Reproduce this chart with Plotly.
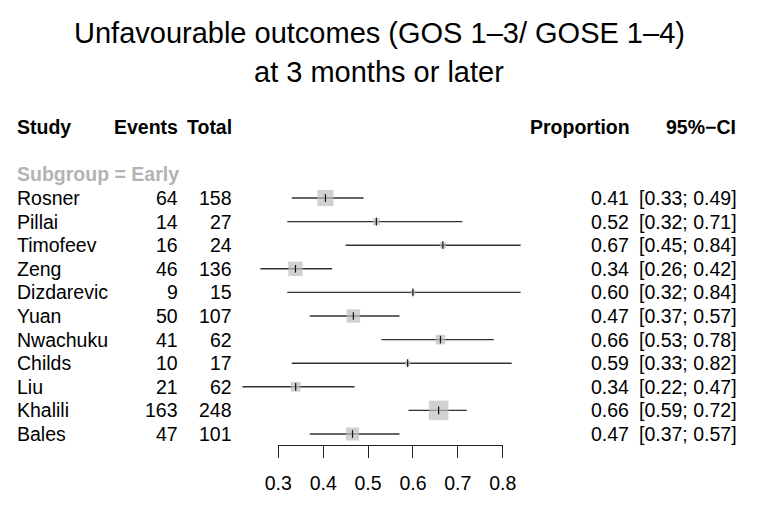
import plotly.graph_objects as go

# ---------------- data ----------------
studies = ["Rosner", "Pillai", "Timofeev", "Zeng", "Dizdarevic", "Yuan",
           "Nwachuku", "Childs", "Liu", "Khalili", "Bales"]
events = [64, 14, 16, 46, 9, 50, 41, 10, 21, 163, 47]
totals = [158, 27, 24, 136, 15, 107, 62, 17, 62, 248, 101]
ci_lower = [0.33, 0.32, 0.45, 0.26, 0.32, 0.37, 0.53, 0.33, 0.22, 0.59, 0.37]
ci_upper = [0.49, 0.71, 0.84, 0.42, 0.84, 0.57, 0.78, 0.82, 0.47, 0.72, 0.57]
tick_values = [0.3, 0.4, 0.5, 0.6, 0.7, 0.8]
subgroup_label = "Subgroup = Early"
title_lines = ["Unfavourable outcomes (GOS 1\u20133/ GOSE 1\u20134)", "at 3 months or later"]
headers = ["Study", "Events", "Total", "Proportion", "95%\u2212CI"]

# ---------------- geometry ----------------
W, H = 758, 515
PX_03, PX_08 = 278.3, 502.7
ppu = (PX_08 - PX_03) / 0.5
x0 = 0.3 - PX_03 / ppu
x1 = x0 + W / ppu
ROW0_PX, ROW_H = 198.0, 23.6
r0 = 1 - ROW0_PX / ROW_H
r1 = r0 + H / ROW_H
AXIS_PX = 445

FONT = "Liberation Sans, Arial, Helvetica, sans-serif"
FS = 19.5

props = [e / t for e, t in zip(events, totals)]
rows = list(range(1, len(studies) + 1))
weights = [e * (t - e) / t for e, t in zip(events, totals)]
wmax = max(weights)
sizes = [19.5 * (w / wmax) ** 0.5 for w in weights]

fig = go.Figure()

# CI lines
cx, cy = [], []
for lo, hi, r in zip(ci_lower, ci_upper, rows):
    cx += [lo, hi, None]
    cy += [r, r, None]
fig.add_trace(go.Scatter(x=cx, y=cy, mode="lines",
                         line=dict(color="#333333", width=1.4),
                         hoverinfo="skip", showlegend=False))
# squares
fig.add_trace(go.Scatter(x=props, y=rows, mode="markers",
                         marker=dict(symbol="square", size=sizes, color="#bdbdbd",
                                     line=dict(width=0)),
                         showlegend=False, cliponaxis=False))
# centre ticks
fig.add_trace(go.Scatter(x=props, y=rows, mode="markers",
                         marker=dict(symbol="line-ns", size=5.5,
                                     line=dict(color="#111111", width=1.2)),
                         showlegend=False, cliponaxis=False))
# invisible trace to activate the visible axis
fig.add_trace(go.Scatter(x=[0.3, 0.8], y=[None, None], xaxis="x2", yaxis="y",
                         mode="markers", showlegend=False, hoverinfo="skip"))

ann = []
def txt(x_px, row, s, anchor, bold=False, color="black", size=FS):
    ann.append(dict(x=x_px / W, xref="paper", y=row, yref="y", text=("<b>%s</b>" % s) if bold else s,
                    xanchor=anchor, yanchor="middle", showarrow=False,
                    font=dict(family=FONT, size=size, color=color)))

# headers
hrow = -2
txt(15, hrow, headers[0], "left", True)
txt(180, hrow, headers[1], "right", True)
txt(234, hrow, headers[2], "right", True)
txt(632, hrow, headers[3], "right", True)
txt(738, hrow, headers[4], "right", True)
txt(15, 0, subgroup_label, "left", True, color="#b3b3b3")

for s, e, t, p, lo, hi, r in zip(studies, events, totals, props, ci_lower, ci_upper, rows):
    txt(15, r, s, "left")
    txt(180, r, str(e), "right")
    txt(234, r, str(t), "right")
    txt(631, r, "%.2f" % p, "right")
    txt(739, r, "[%.2f; %.2f]" % (lo, hi), "right")

# title
for i, line in enumerate(title_lines):
    ann.append(dict(x=0.5, xref="paper", y=1 - (33 + 39 * i) / H, yref="paper", text=line,
                    xanchor="center", yanchor="middle", showarrow=False,
                    font=dict(family=FONT, size=29, color="black")))

fig.update_layout(
    width=W, height=H,
    margin=dict(l=0, r=0, t=0, b=0, pad=0, autoexpand=False),
    paper_bgcolor="white", plot_bgcolor="rgba(0,0,0,0)",
    annotations=ann,
    xaxis=dict(range=[x0, x1], visible=False, domain=[0, 1]),
    yaxis=dict(range=[r1, r0], visible=False, domain=[0, 1]),
    xaxis2=dict(domain=[PX_03 / W, PX_08 / W], range=[0.3, 0.8], anchor="free",
                position=1 - AXIS_PX / H, side="bottom",
                showline=True, linecolor="#222222", linewidth=1.4,
                ticks="outside", ticklen=12, tickwidth=1.4, tickcolor="#222222",
                tickvals=tick_values, ticktext=["%.1f" % v for v in tick_values],
                tickfont=dict(family=FONT, size=FS, color="black"),
                showgrid=False, zeroline=False, ticklabelstandoff=8),
)

fig.write_html("out.html", config={"displayModeBar": False},
               post_script="document.body.style.margin='0';")
